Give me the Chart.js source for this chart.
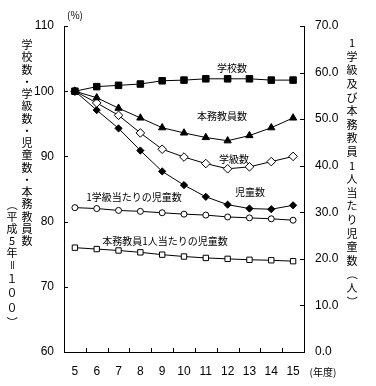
<!DOCTYPE html>
<html>
<head>
<meta charset="utf-8">
<script src="https://cdn.jsdelivr.net/npm/chart.js@4"></script>
<style>
  html, body { margin: 0; padding: 0; background: #fff; }
  #wrap { width: 376px; height: 386px; }
</style>
</head>
<body>
<div id="wrap"><canvas id="chart"></canvas></div>
<script>
// data (left axis: 平成5年=100, right axis: 人)
const years = ['5', '6', '7', '8', '9', '10', '11', '12', '13', '14', '15'];
const schools = [100, 100.7, 100.9, 101.1, 101.6, 101.7, 101.9, 101.9, 101.9, 101.7, 101.7];
const teachers = [100, 99.0, 97.4, 95.9, 94.4, 93.6, 92.9, 92.4, 93.2, 94.4, 95.9];
const classes = [100, 98.2, 96.3, 93.6, 91.1, 89.9, 88.9, 88.1, 88.4, 89.2, 90.0];
const pupils = [100, 97.1, 94.3, 90.9, 87.7, 85.6, 83.8, 82.6, 82.0, 81.9, 82.5];
const pupilsPerClass = [31.0, 30.8, 30.4, 30.2, 29.9, 29.6, 29.4, 29.0, 28.8, 28.6, 28.3];
const pupilsPerTeacher = [22.4, 22.1, 21.8, 21.4, 20.9, 20.5, 20.2, 20.0, 19.8, 19.7, 19.5];

const JP = '"Noto Sans CJK JP", sans-serif';
const NUM = '"Liberation Sans", Arial, sans-serif';

// inward tick marks + text labels
const extras = {
  id: 'extras',
  afterDraw(chart) {
    const {ctx, chartArea: a, scales: {x, y, y1}} = chart;
    ctx.save();
    ctx.strokeStyle = '#000';
    ctx.lineWidth = 1;
    ctx.beginPath();
    y.ticks.forEach(t => {
      const py = Math.round(y.getPixelForValue(t.value)) + 0.5;
      ctx.moveTo(a.left, py); ctx.lineTo(a.left + 4, py);
    });
    y1.ticks.forEach(t => {
      const py = Math.round(y1.getPixelForValue(t.value)) + 0.5;
      ctx.moveTo(a.right, py); ctx.lineTo(a.right - 4, py);
    });
    for (let i = 0; i < years.length - 1; i++) {
      const px = Math.round((x.getPixelForValue(i) + x.getPixelForValue(i + 1)) / 2) + 0.5;
      ctx.moveTo(px, a.bottom); ctx.lineTo(px, a.bottom - 4);
    }
    ctx.stroke();

    ctx.fillStyle = '#000';
    ctx.textAlign = 'center';
    ctx.textBaseline = 'middle';
    ctx.font = '10px ' + JP;
    ctx.fillText('学校数', 232, 68);
    ctx.fillText('本務教員数', 222, 116);
    ctx.fillText('学級数', 234, 159);
    ctx.fillText('児童数', 250, 192);
    ctx.fillText('1学級当たりの児童数', 134, 197);
    ctx.fillText('本務教員1人当たりの児童数', 165, 241);

    ctx.font = '10px ' + JP;
    ctx.fillText('(%)', 75, 15);
    ctx.fillText('(年度)', 323, 372);

    // vertical titles
    ctx.font = '11px ' + JP;
    vertical(ctx, '学校数・学級数・児童数・本務教員数', 27, 45, 12.25);
    vertical(ctx, '（平成5年＝', 12, 205, 12);
    vertical(ctx, '１００）', 12, 279, 14.3);
    vertical(ctx, '1学級及び本務教員1人当たり児童数（人）', 352, 43, 13.6);
    ctx.restore();
  }
};

function vertical(ctx, text, x, y0, step) {
  [...text].forEach((ch, i) => {
    const cy = y0 + i * step;
    if ('（）＝'.includes(ch)) {
      ctx.save();
      ctx.translate(x, cy);
      ctx.rotate(Math.PI / 2);
      ctx.fillText(ch, 0, 0);
      ctx.restore();
    } else {
      ctx.fillText(ch, x, cy);
    }
  });
}

const base = {
  borderColor: '#000',
  borderWidth: 1,
  pointBorderColor: '#000',
  pointBorderWidth: 1,
  tension: 0
};

new Chart(document.getElementById('chart'), {
  type: 'line',
  data: {
    labels: years,
    datasets: [
      {...base, label: '学校数', data: schools, yAxisID: 'y',
        pointStyle: 'rect', pointRadius: 4.6, pointBackgroundColor: '#000'},
      {...base, label: '本務教員数', data: teachers, yAxisID: 'y',
        pointStyle: 'triangle', pointRadius: 4.2, pointBackgroundColor: '#000'},
      {...base, label: '学級数', data: classes, yAxisID: 'y',
        pointStyle: 'rectRot', pointRadius: 4.3, pointBackgroundColor: '#fff'},
      {...base, label: '児童数', data: pupils, yAxisID: 'y',
        pointStyle: 'rectRot', pointRadius: 3.6, pointBackgroundColor: '#000'},
      {...base, label: '1学級当たりの児童数', data: pupilsPerClass, yAxisID: 'y1',
        pointStyle: 'circle', pointRadius: 3, pointBackgroundColor: '#fff'},
      {...base, label: '本務教員1人当たりの児童数', data: pupilsPerTeacher, yAxisID: 'y1',
        pointStyle: 'rect', pointRadius: 3.8, pointBackgroundColor: '#fff'}
    ]
  },
  options: {
    responsive: true,
    maintainAspectRatio: false,
    animation: false,
    layout: {padding: {top: 26, left: 0, right: 0, bottom: 0}},
    plugins: {
      legend: {display: false},
      tooltip: {enabled: false}
    },
    scales: {
      x: {
        offset: true,
        grid: {display: false, drawTicks: false},
        border: {display: true, color: '#000', width: 1},
        ticks: {color: '#000', font: {family: NUM, size: 12}, padding: 12, maxRotation: 0},
        afterFit(scale) { scale.height = 34; }
      },
      y: {
        position: 'left',
        min: 60, max: 110,
        grid: {display: false, drawTicks: false},
        border: {display: true, color: '#000', width: 1},
        ticks: {stepSize: 10, color: '#000', font: {family: NUM, size: 12}, padding: 10},
        afterFit(scale) { scale.width = 64; }
      },
      y1: {
        position: 'right',
        min: 0, max: 70,
        grid: {display: false, drawTicks: false},
        border: {display: true, color: '#000', width: 1},
        ticks: {stepSize: 10, color: '#000', font: {family: NUM, size: 12}, padding: 11,
          callback: v => v.toFixed(1)},
        afterFit(scale) { scale.width = 72; }
      }
    }
  },
  plugins: [extras]
});
</script>
</body>
</html>
